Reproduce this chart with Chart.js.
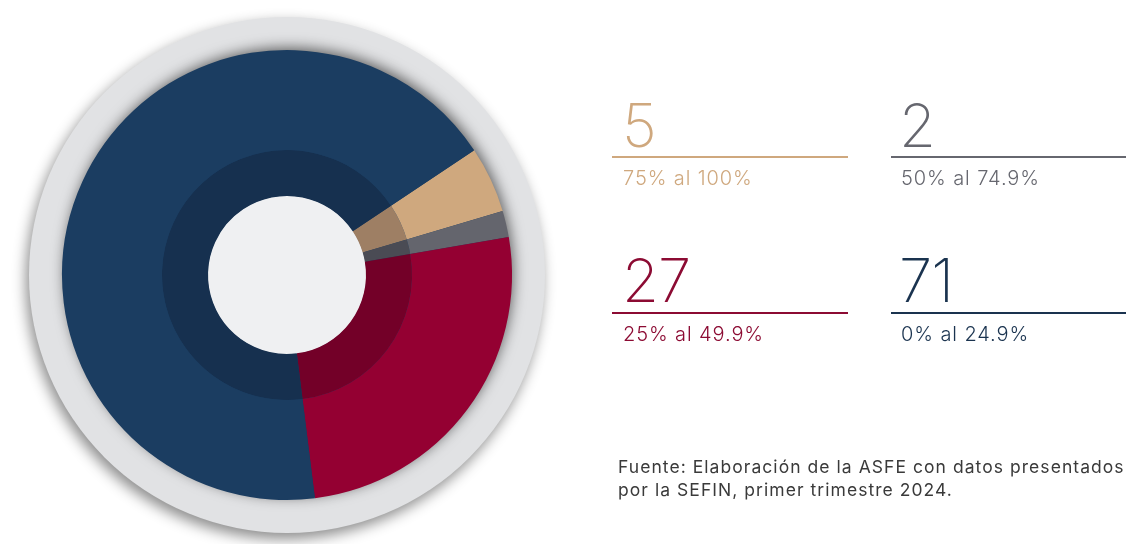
<!DOCTYPE html>
<html>
<head>
<meta charset="utf-8">
<script src="https://cdn.jsdelivr.net/npm/chart.js@4"></script>
<style>
  html,body{margin:0;padding:0;background:#ffffff;width:1126px;height:544px;overflow:hidden;}
  #wrap{position:absolute;left:0;top:0;width:1126px;height:544px;}
  .num{position:absolute;font-family:Inter,"Open Sans",sans-serif;font-weight:200;font-size:60px;line-height:normal;white-space:nowrap;letter-spacing:-1px;}
  .lab{position:absolute;font-family:Inter,"Open Sans",sans-serif;font-weight:300;font-size:20px;line-height:normal;white-space:nowrap;letter-spacing:0.9px;}
  .rule{position:absolute;height:2px;}
  #note{position:absolute;left:618px;top:455px;font-family:Inter,"Open Sans",sans-serif;font-weight:400;font-size:17.5px;line-height:23px;color:#3a3a3a;white-space:nowrap;letter-spacing:1.05px;}
</style>
</head>
<body>
<div id="wrap"><canvas id="c" width="1126" height="544"></canvas></div>
<div id="panel"></div>
<div id="note">Fuente: Elaboración de la ASFE con datos presentados<br>por la SEFIN, primer trimestre 2024.</div>
<script>
// ---- data ----
const categories = ['75% al 100%', '50% al 74.9%', '25% al 49.9%', '0% al 24.9%'];
const values = [5, 2, 27, 71];
const colors = ['#CFA87E', '#64656D', '#940032', '#1B3D61'];
const innerColors = ['#9E7F64', '#4A4B54', '#730028', '#16304F'];
const textColors = ['#CFA87E', '#66676F', '#8C0B33', '#1A334F'];

// ---- right panel (built from data) ----
const panel = document.getElementById('panel');
const cols = [612, 891];
const colNumX = [622, 899];
const colLabX = [623, 901];
const colW = [236, 235];
const rowRule = [157, 313];
const rowNumTop = [89, 244];
const rowLabTop = [166, 322];
categories.forEach((cat, i) => {
  const col = i % 2, row = Math.floor(i / 2);
  const n = document.createElement('div');
  n.className = 'num';
  n.style.left = colNumX[col] + 'px';
  n.style.top = rowNumTop[row] + 'px';
  n.style.color = textColors[i];
  n.textContent = String(values[i]);
  panel.appendChild(n);
  const r = document.createElement('div');
  r.className = 'rule';
  r.style.left = cols[col] + 'px';
  r.style.top = (rowRule[row] - 1) + 'px';
  r.style.width = colW[col] + 'px';
  r.style.background = textColors[i];
  panel.appendChild(r);
  const l = document.createElement('div');
  l.className = 'lab';
  l.style.left = colLabX[col] + 'px';
  l.style.top = rowLabTop[row] + 'px';
  l.style.color = textColors[i];
  l.textContent = cat;
  panel.appendChild(l);
});

// ---- decorations plugin ----
const deco = {
  id: 'deco',
  beforeDatasetsDraw(chart) {
    const meta = chart.getDatasetMeta(0);
    const arc = meta.data[0];
    const cx = arc.x, cy = arc.y, R = arc.outerRadius;
    const ctx = chart.ctx;
    ctx.save();
    // outer light ring with drop shadow
    ctx.shadowColor = 'rgba(0,0,0,0.45)';
    ctx.shadowBlur = 14;
    ctx.shadowOffsetX = -3;
    ctx.shadowOffsetY = 6;
    ctx.fillStyle = '#E1E2E4';
    ctx.beginPath();
    ctx.arc(cx, cy, R + 33, 0, Math.PI * 2);
    ctx.fill();
    // shadow of the pie onto the ring
    ctx.shadowColor = 'rgba(0,0,0,0.6)';
    ctx.shadowBlur = 14;
    ctx.shadowOffsetX = 2;
    ctx.shadowOffsetY = -3;
    ctx.fillStyle = '#1B3D61';
    ctx.beginPath();
    ctx.arc(cx, cy, R - 1, 0, Math.PI * 2);
    ctx.fill();
    ctx.restore();
    // center disc
    const inner = chart.getDatasetMeta(1).data[0];
    ctx.save();
    ctx.fillStyle = '#EFF0F2';
    ctx.beginPath();
    ctx.arc(cx, cy, inner.innerRadius + 0.5, 0, Math.PI * 2);
    ctx.fill();
    ctx.restore();
  }
};

new Chart(document.getElementById('c'), {
  type: 'doughnut',
  data: {
    labels: categories,
    datasets: [
      { data: values, backgroundColor: colors, borderWidth: 0, weight: 100 },
      { data: values, backgroundColor: innerColors, borderWidth: 0, weight: 46 }
    ]
  },
  options: {
    responsive: false,
    animation: false,
    rotation: 56.3,
    cutout: '35.1%',
    layout: { padding: { left: 62, right: 614, top: 50, bottom: 44 } },
    plugins: { legend: { display: false }, tooltip: { enabled: false } },
    events: []
  },
  plugins: [deco]
});
</script>
</body>
</html>
